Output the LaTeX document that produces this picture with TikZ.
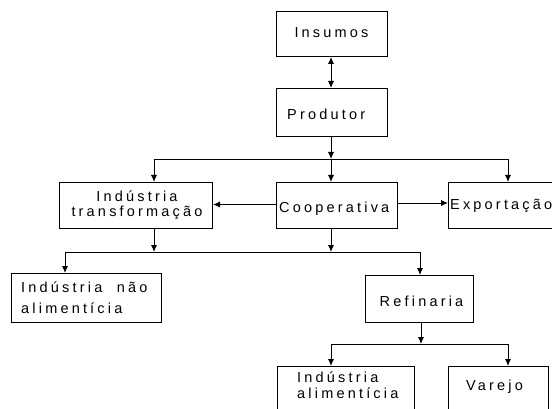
\documentclass[tikz,border=0pt]{standalone}
\usepackage{fontspec}
\setmainfont{Liberation Sans}[LetterSpace=22]
\usetikzlibrary{arrows.meta}
\begin{document}
\begin{tikzpicture}[x=1pt,y=-1pt,
  box/.style={draw,line width=1pt,inner sep=0pt,anchor=north west},
  lbl/.style={font=\fontsize{14.5}{14.5}\selectfont,inner sep=0pt},
  arr/.style={-{Latex[length=7pt,width=6pt]},line width=0.9pt},
  dbl/.style={{Latex[length=7pt,width=6pt]}-{Latex[length=7pt,width=6pt]},line width=0.9pt},
  ln/.style={line width=0.9pt}]
\clip (0,0) rectangle (552,409);
\fill[white] (0,0) rectangle (552,409);
% boxes
\node[box,minimum width=111pt,minimum height=45pt] (ins) at (276,11) {};
\node[box,minimum width=111pt,minimum height=48pt] (prod) at (276,88) {};
\node[box,minimum width=153pt,minimum height=46pt] (indt) at (59,182) {};
\node[box,minimum width=121pt,minimum height=46pt] (coop) at (276,182) {};
\node[box,minimum width=140pt,minimum height=46pt] (exp) at (448,182) {};
\node[box,minimum width=150pt,minimum height=49pt] (ina) at (11,273) {};
\node[box,minimum width=108pt,minimum height=47pt] (ref) at (365,275) {};
\node[box,minimum width=137pt,minimum height=60pt] (iali) at (277,366) {};
\node[box,minimum width=100pt,minimum height=60pt] (var) at (448,366) {};
% labels
\node[lbl] (tins) at (331.5,33) {Insumos};
\node[lbl,anchor=west] (tprod) at (287,114) {Produtor};
\node[lbl,align=center] (tindt) at (137,205) {Indústria\\transformação};
\node[lbl,anchor=west] (tcoop) at (279,209) {Cooperativa};
\node[lbl,anchor=west] (texp) at (450,206) {Exportação};
\node[lbl,align=left,anchor=west,font=\fontsize{14.5}{21}\selectfont] (tina) at (21,298) {Indústria\ \ não\\alimentícia};
\node[lbl] (tref) at (421.5,301) {Refinaria};
\node[lbl,align=left,anchor=west,font=\fontsize{14.5}{16}\selectfont] (tiali) at (297,385) {Indústria\\alimentícia};
\node[lbl] (tvar) at (494.5,387) {Varejo};
% junction coordinates
\coordinate (j1) at (331,159);
\coordinate (j1l) at (154,159);
\coordinate (j1r) at (508,159);
\coordinate (j2) at (331,252);
\coordinate (j2t) at (154,252);
\coordinate (j2l) at (65,252);
\coordinate (j2r) at (420,252);
\coordinate (j3) at (421,344);
\coordinate (j3l) at (331,344);
\coordinate (j3r) at (508,344);
% connectors
\draw[dbl] (ins.south -| 331,0) -- (prod.north -| 331,0);
\draw[arr] (prod.south -| j1) -- (j1);
\draw[ln] (j1l) -- (j1r);
\draw[arr] (j1l) -- (indt.north -| j1l);
\draw[arr] (j1) -- (coop.north -| j1);
\draw[arr] (j1r) -- (exp.north -| j1r);
\draw[arr] (coop.west |- 0,204.5) -- (indt.east |- 0,204.5);
\draw[arr] (coop.east |- 0,203) -- (exp.west |- 0,203);
\draw[arr] (indt.south -| j2t) -- (j2t);
\draw[arr] (coop.south -| j2) -- (j2);
\draw[ln] (j2l) -- (j2r);
\draw[arr] (j2l) -- (ina.north -| j2l);
\draw[arr] (j2r) -- (ref.north -| j2r);
\draw[arr] (ref.south -| j3) -- (j3);
\draw[ln] (j3l) -- (j3r);
\draw[arr] (j3l) -- (iali.north -| j3l);
\draw[arr] (j3r) -- (var.north -| j3r);
\end{tikzpicture}
\end{document}
